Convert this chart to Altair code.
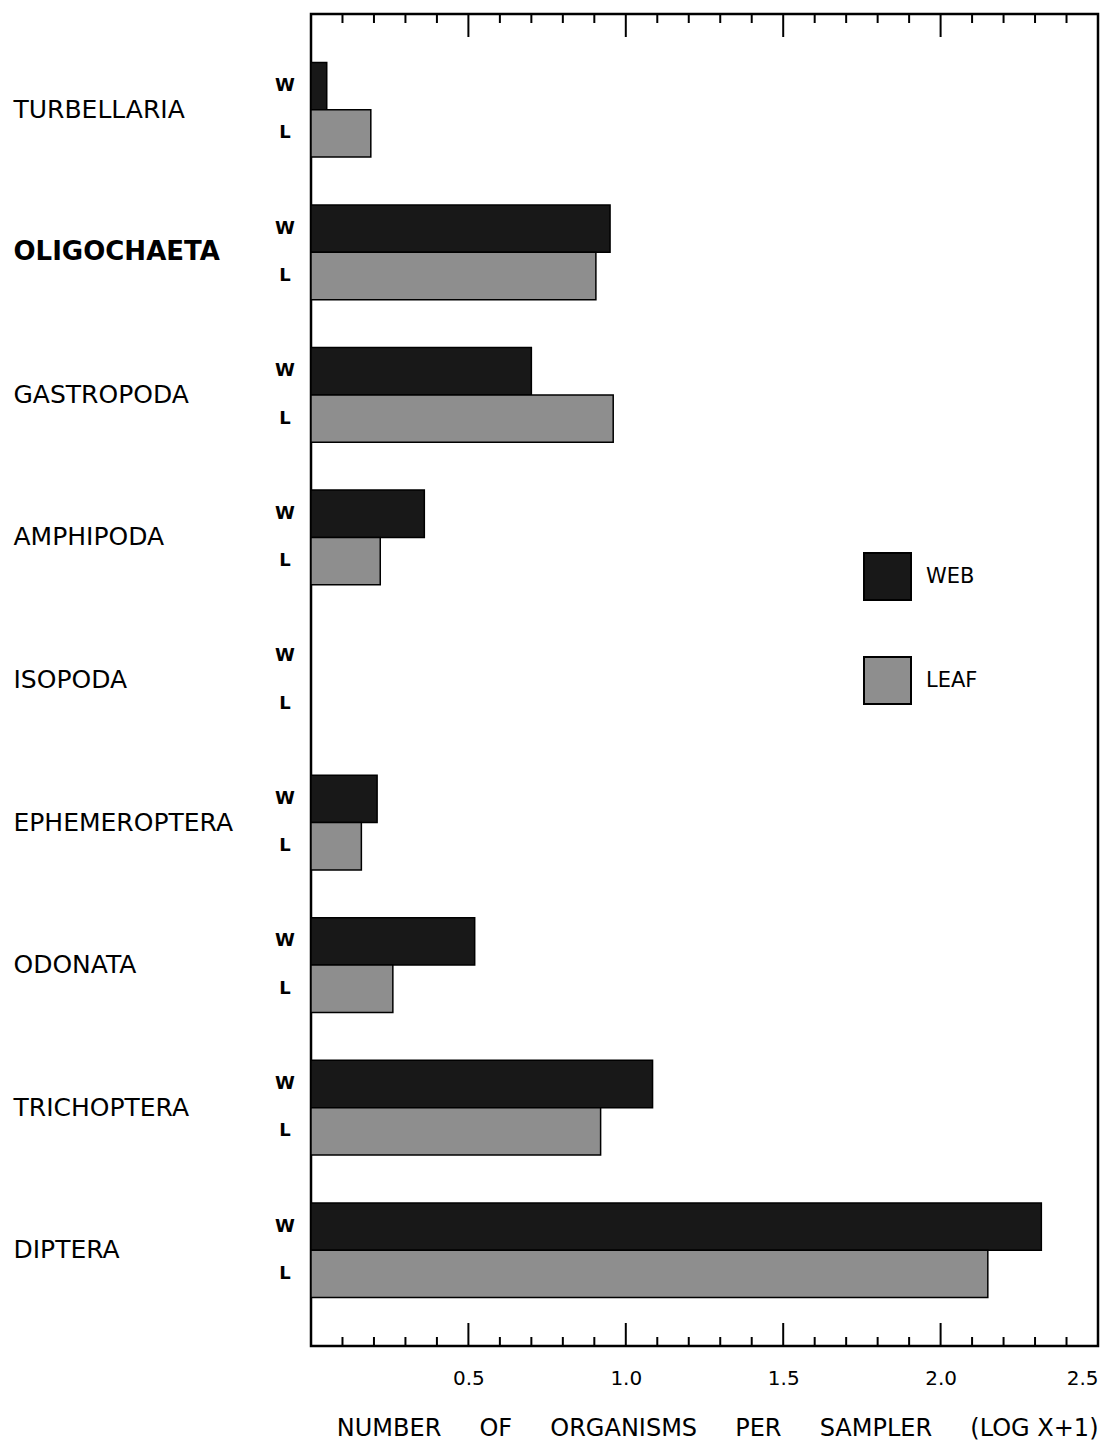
import altair as alt
import pandas as pd

categories = ["TURBELLARIA", "OLIGOCHAETA", "GASTROPODA", "AMPHIPODA", "ISOPODA",
              "EPHEMEROPTERA", "ODONATA", "TRICHOPTERA", "DIPTERA"]
web_values = [0.05, 0.95, 0.70, 0.36, 0.0, 0.21, 0.52, 1.085, 2.32]
leaf_values = [0.19, 0.905, 0.96, 0.22, 0.0, 0.16, 0.26, 0.92, 2.15]
series = ["WEB", "LEAF"]
series_letters = ["W", "L"]
tick_labels = [0.5, 1.0, 1.5, 2.0, 2.5]
major_ticks = [0.5, 1.0, 1.5, 2.0]
minor_ticks = [0.1, 0.2, 0.3, 0.4, 0.6, 0.7, 0.8, 0.9, 1.1, 1.2, 1.3, 1.4,
               1.6, 1.7, 1.8, 1.9, 2.1, 2.2, 2.3, 2.4]

rows = []
for i, c in enumerate(categories):
    for s, letter, vals in zip(series, series_letters, [web_values, leaf_values]):
        rows.append({"taxon": c, "sampler": s, "letter": letter, "value": vals[i]})
df = pd.DataFrame(rows)
major_df = pd.DataFrame({"t": major_ticks})
minor_df = pd.DataFrame({"t": minor_ticks})

W, H = 787, 1332
FONT = "DejaVu Sans"
TITLE = "\u00a0\u00a0\u00a0\u00a0\u00a0".join(["NUMBER", "OF", "ORGANISMS", "PER", "SAMPLER", "(LOG X+1)"])

xscale = alt.Scale(domain=[0, 2.5], nice=False, zero=True)
yscale = alt.Scale(paddingInner=0.336, paddingOuter=0.34)

y_enc = alt.Y("taxon:N", sort=categories, scale=yscale, axis=alt.Axis(
    title=None, ticks=False, domain=False, labelAlign="left", labelPadding=298,
    labelBaseline="middle", labelFont=FONT, labelColor="black",
    labelFontSize=alt.condition("datum.value == 'OLIGOCHAETA'", alt.value(26), alt.value(25)),
    labelFontWeight=alt.condition("datum.value == 'OLIGOCHAETA'", alt.value("bold"), alt.value("normal")),
    labelLimit=400))

bars = alt.Chart(df).transform_filter("datum.value > 0").mark_bar(
    stroke="black", strokeWidth=1.5).encode(
    x=alt.X("value:Q", scale=xscale, axis=alt.Axis(
        title=TITLE, values=tick_labels, format=".1f", ticks=False, domain=False, grid=False,
        labelFont=FONT, labelFontSize=20, labelColor="black", labelPadding=22,
        titleFont=FONT, titleFontSize=24, titleFontWeight="normal", titleColor="black",
        titleAnchor="end", titlePadding=28)),
    y=y_enc,
    yOffset=alt.YOffset("sampler:N", sort=series, scale=alt.Scale(paddingInner=0, paddingOuter=0)),
    color=alt.Color("sampler:N", sort=series,
                    scale=alt.Scale(domain=series, range=["#181818", "#8e8e8e"]),
                    legend=alt.Legend(title=None, orient="none", legendX=552, legendY=538,
                                      symbolType="square", symbolSize=2209,
                                      symbolStrokeColor="black", symbolStrokeWidth=2,
                                      symbolOpacity=1,
                                      rowPadding=49, labelFont=FONT, labelFontSize=21,
                                      labelColor="black", labelOffset=14, padding=0)),
)

letters = alt.Chart(df).mark_text(
    font=FONT, fontSize=18, fontWeight="bold", color="black", align="center", baseline="middle"
).encode(
    x=alt.value(-26),
    y=alt.Y("taxon:N", sort=categories, scale=yscale),
    yOffset=alt.YOffset("sampler:N", sort=series, scale=alt.Scale(paddingInner=0, paddingOuter=0)),
    text="letter:N",
)

def tick_layer(data, y0, y1):
    return alt.Chart(data).mark_rule(color="black", strokeWidth=2).encode(
        x=alt.X("t:Q", scale=xscale), y=alt.value(y0), y2=alt.value(y1))

ticks = [tick_layer(major_df, 0, 23), tick_layer(minor_df, 0, 9),
         tick_layer(major_df, H, H - 23), tick_layer(minor_df, H, H - 9)]

chart = alt.layer(bars, letters, *ticks).properties(
    width=W, height=H, background="white"
).configure_view(stroke="black", strokeWidth=2.5)

chart.save("out.html", embed_options={"renderer": "svg", "actions": False})
